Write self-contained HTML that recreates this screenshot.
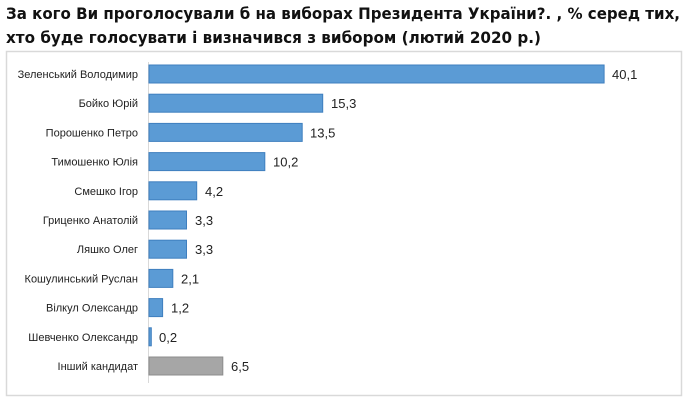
<!DOCTYPE html>
<html><head><meta charset="utf-8"><style>
body{margin:0;background:#fff;width:690px;height:412px;overflow:hidden}
</style></head><body>
<svg width="690" height="412" xmlns="http://www.w3.org/2000/svg" font-family="'Liberation Sans','DejaVu Sans',sans-serif">
<text x="6" y="19" font-family="'DejaVu Sans',sans-serif" font-weight="bold" font-size="16" fill="#111" textLength="674" lengthAdjust="spacingAndGlyphs">За кого Ви проголосували б на виборах  Президента України?. , % серед тих,</text>
<text x="6" y="43" font-family="'DejaVu Sans',sans-serif" font-weight="bold" font-size="16" fill="#111" textLength="535" lengthAdjust="spacingAndGlyphs">хто буде голосувати і визначився з вибором (лютий 2020 р.)</text>
<rect x="6.5" y="51.5" width="675" height="344" fill="#fff" stroke="#d9d9d9" stroke-width="1.5"/>
<line x1="148.5" y1="62" x2="148.5" y2="383" stroke="#d9d9d9"/>
<g font-size="11" fill="#222" text-anchor="end">
<text x="138" y="78">Зеленський Володимир</text>
<text x="138" y="107.2">Бойко Юрій</text>
<text x="138" y="136.4">Порошенко Петро</text>
<text x="138" y="165.6">Тимошенко Юлія</text>
<text x="138" y="194.8">Смешко Ігор</text>
<text x="138" y="224">Гриценко Анатолій</text>
<text x="138" y="253.2">Ляшко Олег</text>
<text x="138" y="282.4">Кошулинський Руслан</text>
<text x="138" y="311.6">Вілкул Олександр</text>
<text x="138" y="340.8">Шевченко Олександр</text>
<text x="138" y="370">Інший кандидат</text>
</g>
<g fill="#5b9bd5" stroke="#3f7fbf">
<rect x="149" y="65" width="455.1" height="18"/>
<rect x="149" y="94.2" width="173.7" height="18"/>
<rect x="149" y="123.4" width="153.2" height="18"/>
<rect x="149" y="152.6" width="115.8" height="18"/>
<rect x="149" y="181.8" width="47.7" height="18"/>
<rect x="149" y="211" width="37.5" height="18"/>
<rect x="149" y="240.2" width="37.5" height="18"/>
<rect x="149" y="269.4" width="23.8" height="18"/>
<rect x="149" y="298.6" width="13.6" height="18"/>
<rect x="149" y="327.8" width="2.3" height="18"/>
<rect x="149" y="357" width="73.8" height="18" fill="#a6a6a6" stroke="#8c8c8c"/>
</g>
<g font-size="13" fill="#222">
<text x="612" y="79">40,1</text>
<text x="331" y="108.2">15,3</text>
<text x="310" y="137.4">13,5</text>
<text x="273" y="166.6">10,2</text>
<text x="205" y="195.8">4,2</text>
<text x="195" y="225">3,3</text>
<text x="195" y="254.2">3,3</text>
<text x="181" y="283.4">2,1</text>
<text x="171" y="312.6">1,2</text>
<text x="159" y="341.8">0,2</text>
<text x="231" y="371">6,5</text>
</g>
</svg>
</body></html>
